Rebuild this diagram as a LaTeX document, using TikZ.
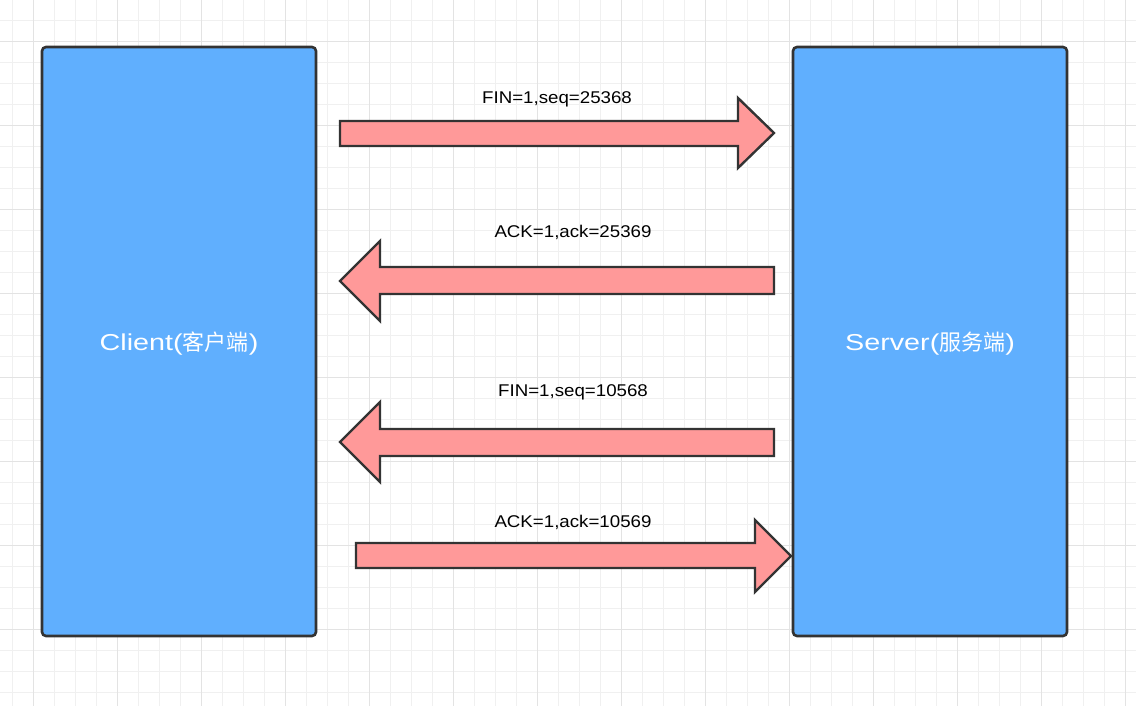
\documentclass[tikz,border=0pt]{standalone}
\usepackage{fontspec}
\setmainfont{Liberation Sans}
\newfontfamily\cjk{Noto Sans CJK SC}
\newfontfamily\msgfont[FakeStretch=1.1]{Liberation Sans}
\newfontfamily\hostfont[FakeStretch=1.25]{Liberation Sans}
\definecolor{boxblue}{HTML}{60AFFE}
\definecolor{edge}{HTML}{333333}
\definecolor{arrowpink}{HTML}{FF9999}
\definecolor{gridminor}{HTML}{F0F0F0}
\definecolor{gridmajor}{HTML}{E3E3E3}
\tikzset{
  hostbox/.style={draw=edge, line width=2.6pt, fill=boxblue, rounded corners=4pt},
  fatarrow/.style={draw=edge, line width=2.4pt, fill=arrowpink, line join=miter},
  msglabel/.style={font=\msgfont\fontsize{17}{20}\selectfont, text=black, inner sep=0pt},
  hostlabel/.style={font=\hostfont\fontsize{23}{27}\selectfont, text=white, inner sep=0pt}
}
\newcommand{\cjktext}[1]{{\cjk\fontsize{22}{26}\selectfont #1}}
\begin{document}
\begin{tikzpicture}[x=1pt,y=-1pt]
\useasboundingbox (0,0) rectangle (1136,706);
\fill[white] (0,0) rectangle (1136,706);
% grid
\foreach \i in {0,...,54} {
  \pgfmathsetmacro{\gx}{12.3+21*\i}
  \draw[gridminor, line width=1pt] (\gx,0) -- (\gx,706);
}
\foreach \i in {0,...,33} {
  \pgfmathsetmacro{\gy}{20.7+21*\i}
  \draw[gridminor, line width=1pt] (0,\gy) -- (1136,\gy);
}
\foreach \i in {0,...,13} {
  \pgfmathsetmacro{\gx}{33.3+84*\i}
  \draw[gridmajor, line width=1pt] (\gx,0) -- (\gx,706);
}
\foreach \i in {0,...,8} {
  \pgfmathsetmacro{\gy}{41.7+84*\i}
  \draw[gridmajor, line width=1pt] (0,\gy) -- (1136,\gy);
}
% boxes
\draw[hostbox] (42,47) rectangle (316,636);
\draw[hostbox] (793,47) rectangle (1067,636);
\node[hostlabel] (client) at (179,344) {Client(\cjktext{客户端})};
\node[hostlabel] (server) at (930,344) {Server(\cjktext{服务端})};
% arrow 1: right
\draw[fatarrow] (340,121) -- (738,121) -- (738,98) -- (774,133) -- (738,168) -- (738,146) -- (340,146) -- cycle;
\node[msglabel] (m1) at (557,99) {FIN=1,seq=25368};
% arrow 2: left
\draw[fatarrow] (774,267) -- (380,267) -- (380,241) -- (340,281) -- (380,321) -- (380,294) -- (774,294) -- cycle;
\node[msglabel] (m2) at (573,232) {ACK=1,ack=25369};
% arrow 3: left
\draw[fatarrow] (774,429) -- (380,429) -- (380,402) -- (340,442) -- (380,482) -- (380,456) -- (774,456) -- cycle;
\node[msglabel] (m3) at (573,392) {FIN=1,seq=10568};
% arrow 4: right
\draw[fatarrow] (356,543) -- (755,543) -- (755,520) -- (791,556) -- (755,592) -- (755,568) -- (356,568) -- cycle;
\node[msglabel] (m4) at (573,522) {ACK=1,ack=10569};
\end{tikzpicture}
\end{document}
